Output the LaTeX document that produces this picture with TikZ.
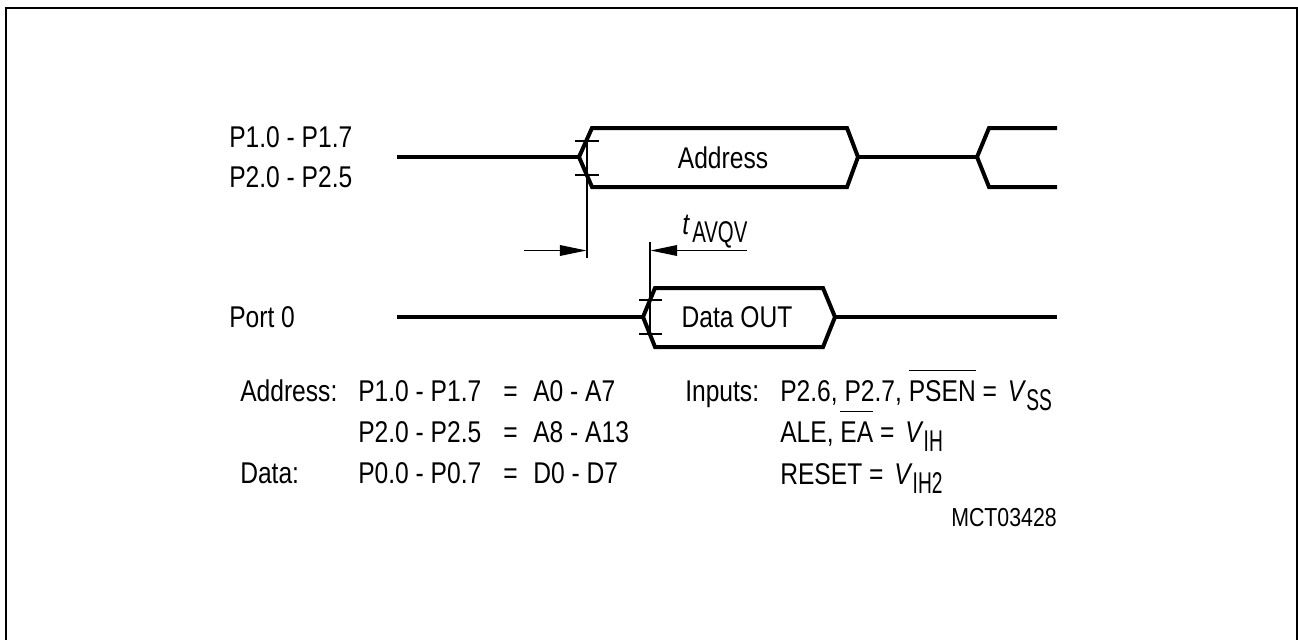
\documentclass[tikz,border=0pt]{standalone}
\usepackage{fontspec}
\setmainfont{Liberation Sans}
\usetikzlibrary{arrows.meta}
\newcommand{\txt}[1]{\scalebox{0.82}[1]{#1}}
\newsavebox{\ovlbox}
\newcommand{\ovl}[1]{\sbox{\ovlbox}{#1}\rlap{\raisebox{22.5pt}{\rule{\wd\ovlbox}{0.9pt}}}\usebox{\ovlbox}}
\newcommand{\subtxt}[1]{\raisebox{-6.75pt}{\scalebox{0.78}[1]{#1}}}
\tikzset{
  x=0.75pt,y=-0.75pt,
  sig/.style={line width=3pt,line join=miter,line cap=butt},
  thin line/.style={line width=1pt},
  dim/.style={line width=1pt,-{Triangle[length=20pt,width=8pt]}},
  lab/.style={inner sep=0pt,anchor=base west,font=\fontsize{22.5pt}{26pt}\selectfont},
  labc/.style={inner sep=0pt,anchor=base,font=\fontsize{22.5pt}{26pt}\selectfont},
  labr/.style={inner sep=0pt,anchor=base east,font=\fontsize{19.5pt}{23pt}\selectfont}
}
\begin{document}
\begin{tikzpicture}
\useasboundingbox (0,0) rectangle (1298,639);
\draw[line width=1.5pt] (6,640) -- (6,8) -- (1297,8) -- (1297,640);
% signals
\coordinate (a0) at (397,157);
\coordinate (a1) at (579,157);
\coordinate (a2) at (858,157);
\coordinate (a3) at (977,157);
\draw[sig] (a0) -- (a1);
\draw[sig] (a1) -- (592,128) -- (847,128) -- (a2) -- (847,187) -- (592,187) -- cycle;
\draw[sig] (a2) -- (a3);
\draw[sig] (1057,128) -- (989,128) -- (a3) -- (989,187) -- (1057,187);
\coordinate (d0) at (397,317);
\coordinate (d1) at (643,317);
\coordinate (d2) at (835,317);
\coordinate (d3) at (1057,317);
\draw[sig] (d0) -- (d1);
\draw[sig] (d1) -- (655,288) -- (823,288) -- (d2) -- (823,347) -- (655,347) -- cycle;
\draw[sig] (d2) -- (d3);
% ticks
\draw[thin line] (575,141) -- (599,141);
\draw[thin line] (575,175) -- (599,175);
\draw[thin line] (639,300) -- (662,300);
\draw[thin line] (639,334) -- (662,334);
\coordinate (va1) at (587,141);
\coordinate (va2) at (587,258);
\coordinate (vb1) at (650,242);
\coordinate (vb2) at (650,334);
\draw[thin line] (va1) -- (va2);
\draw[thin line] (vb1) -- (vb2);
\coordinate (ra) at (524,250.5);
\coordinate (rb) at (747,250.5);
\draw[dim] (ra) -- (586.5,250.5);
\draw[dim] (rb) -- (650.5,250.5);
% labels
\node[lab] (l1) at (229,147) {\txt{P1.0 - P1.7}};
\node[lab] (l2) at (229,187) {\txt{P2.0 - P2.5}};
\node[lab] (l3) at (229,327) {\txt{Port 0}};
\node[labc] (addr) at (723,168) {\txt{Address}};
\node[labc] (dout) at (737,327) {\txt{Data OUT}};
\node[lab] (t) at (682,234) {\txt{\itshape t}};
\node[lab] (tsub) at (692,242) {\scalebox{0.68}[1]{AVQV}};
\node[lab] (n1) at (240,401) {\txt{Address:}};
\node[lab] (n2) at (358,401) {\txt{P1.0 - P1.7}};
\node[lab] (n3) at (503,401) {\txt{=}};
\node[lab] (n4) at (533,401) {\txt{A0 - A7}};
\node[lab] (n5) at (358,442) {\txt{P2.0 - P2.5}};
\node[lab] (n6) at (503,442) {\txt{=}};
\node[lab] (n7) at (533,442) {\txt{A8 - A13}};
\node[lab] (n8) at (240,483) {\txt{Data:}};
\node[lab] (n9) at (358,483) {\txt{P0.0 - P0.7}};
\node[lab] (n10) at (503,483) {\txt{=}};
\node[lab] (n11) at (533,483) {\txt{D0 - D7}};
\node[lab] (i1) at (685,401) {\txt{Inputs:}};
\node[lab] (i2) at (780,401) {\txt{P2.6, P2.7, \ovl{PSEN} = \,\textit{V}\subtxt{SS}}};
\node[lab] (i3) at (780,442) {\txt{ALE, \ovl{EA} = \,\textit{V}\subtxt{IH}}};
\node[lab] (i4) at (780,484) {\txt{RESET = \,\textit{V}\subtxt{IH2}}};
\node[labr] (mct) at (1057,526) {\txt{MCT03428}};
\end{tikzpicture}
\end{document}
